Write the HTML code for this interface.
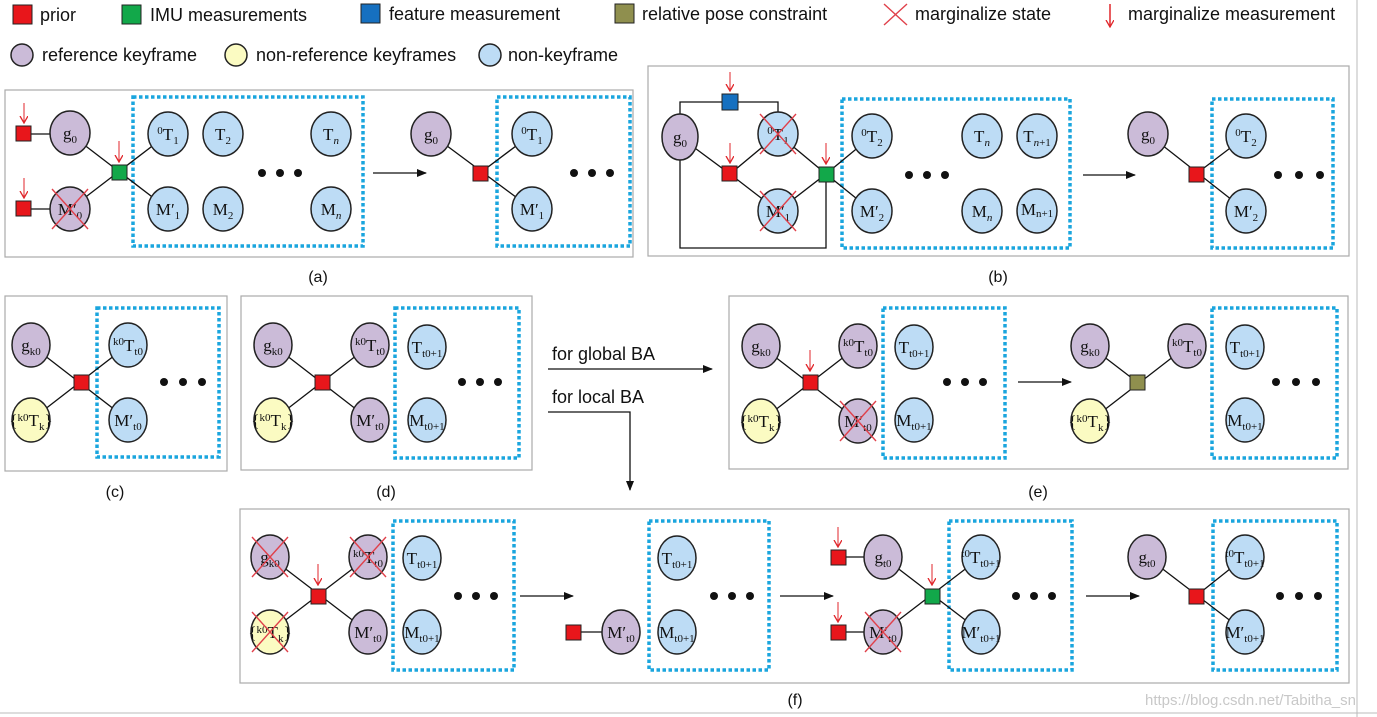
<!DOCTYPE html>
<html><head><meta charset="utf-8"><style>
body{margin:0;background:#fff}
svg{display:block}
.p{fill:#cbbbd8;stroke:#222;stroke-width:1.5}
.b{fill:#bddcf5;stroke:#222;stroke-width:1.5}
.y{fill:#fbfbc2;stroke:#222;stroke-width:1.5}
.box{fill:none;stroke:#aaa;stroke-width:1.2}
.dot{fill:none;stroke:#1aa5de;stroke-width:3.5;stroke-dasharray:3.5 2.5}
.ln{stroke:#111;stroke-width:1.3;fill:none}
.x{stroke:#e0404a;stroke-width:1.4}
.l{font-family:"Liberation Serif",serif;font-size:17px;text-anchor:middle;fill:#111}
.s{font-size:11px}
.lg{font-family:"Liberation Sans",sans-serif;font-size:18px;fill:#111}
.cap{font-family:"Liberation Sans",sans-serif;font-size:16px;fill:#111;text-anchor:middle}
.r{fill:#e8161b;stroke:#222;stroke-width:1}
.g{fill:#12a84a;stroke:#222;stroke-width:1}
.dd{fill:#111}
</style></head><body>
<svg width="1377" height="717" viewBox="0 0 1377 717" xmlns="http://www.w3.org/2000/svg">
<defs>
<marker id="ah" markerWidth="10" markerHeight="8" refX="9" refY="4" orient="auto" markerUnits="userSpaceOnUse"><path d="M0,0 L10,4 L0,8z" fill="#111"/></marker>
<marker id="ra" markerWidth="8" markerHeight="10" refX="7" refY="4" orient="auto" markerUnits="userSpaceOnUse"><path d="M0,0 L7,4 L0,8" fill="none" stroke="#e0262b" stroke-width="1.3"/></marker>
</defs>
<!-- legend -->
<rect x="13" y="5" width="19" height="19" class="r"/><text x="40" y="21" class="lg">prior</text>
<rect x="122" y="5" width="19" height="19" class="g"/><text x="150" y="21" class="lg">IMU measurements</text>
<rect x="361" y="4" width="19" height="19" fill="#1670c0" stroke="#222"/><text x="389" y="20" class="lg">feature measurement</text>
<rect x="615" y="4" width="19" height="19" fill="#8f8f4e" stroke="#222"/><text x="642" y="20" class="lg">relative pose constraint</text>
<line x1="884" y1="4" x2="907" y2="25" class="x" stroke-width="2"/><line x1="907" y1="4" x2="884" y2="25" class="x" stroke-width="2"/><text x="915" y="20" class="lg">marginalize state</text>
<line x1="1110" y1="4" x2="1110" y2="27" stroke="#e0262b" stroke-width="1.5" marker-end="url(#ra)"/><text x="1128" y="20" class="lg">marginalize measurement</text>
<circle cx="22" cy="55" r="11" class="p"/><text x="42" y="61" class="lg">reference keyframe</text>
<circle cx="236" cy="55" r="11" class="y"/><text x="256" y="61" class="lg">non-reference keyframes</text>
<circle cx="490" cy="55" r="11" class="b"/><text x="508" y="61" class="lg">non-keyframe</text>
<line x1="1357" y1="0" x2="1357" y2="717" stroke="#bbb"/>

<!-- (a) -->
<rect x="5" y="90" width="628" height="167" class="box"/>
<rect x="133" y="97" width="230" height="149" class="dot"/>
<rect x="497" y="97" width="133" height="149" class="dot"/>
<line x1="24" y1="134" x2="70" y2="134" class="ln"/><line x1="24" y1="209" x2="70" y2="209" class="ln"/>
<line x1="70" y1="134" x2="168" y2="209" class="ln"/><line x1="70" y1="209" x2="168" y2="134" class="ln"/>
<rect x="16" y="126" width="15" height="15" class="r"/><rect x="16" y="201" width="15" height="15" class="r"/>
<line x1="24" y1="103" x2="24" y2="123" stroke="#e0262b" marker-end="url(#ra)"/><line x1="24" y1="178" x2="24" y2="198" stroke="#e0262b" marker-end="url(#ra)"/>
<rect x="112" y="165" width="15" height="15" class="g"/><line x1="119" y1="141" x2="119" y2="162" stroke="#e0262b" marker-end="url(#ra)"/>
<ellipse cx="70" cy="133" rx="20" ry="22" class="p"/><text x="70" y="139" class="l">g<tspan class="s" dy="4">0</tspan></text>
<ellipse cx="70" cy="209" rx="20" ry="22" class="p"/><text x="70" y="215" class="l">M′<tspan class="s" dy="4">0</tspan></text>
<line x1="52" y1="189" x2="88" y2="229" class="x"/><line x1="88" y1="189" x2="52" y2="229" class="x"/>
<ellipse cx="168" cy="134" rx="20" ry="22" class="b"/><text x="168" y="140" class="l"><tspan class="s" dy="-6">0</tspan><tspan dy="6">T</tspan><tspan class="s" dy="4">1</tspan></text>
<ellipse cx="223" cy="134" rx="20" ry="22" class="b"/><text x="223" y="140" class="l">T<tspan class="s" dy="4">2</tspan></text>
<ellipse cx="331" cy="134" rx="20" ry="22" class="b"/><text x="331" y="140" class="l">T<tspan class="s" dy="4" font-style="italic">n</tspan></text>
<ellipse cx="168" cy="209" rx="20" ry="22" class="b"/><text x="168" y="215" class="l">M′<tspan class="s" dy="4">1</tspan></text>
<ellipse cx="223" cy="209" rx="20" ry="22" class="b"/><text x="223" y="215" class="l">M<tspan class="s" dy="4">2</tspan></text>
<ellipse cx="331" cy="209" rx="20" ry="22" class="b"/><text x="331" y="215" class="l">M<tspan class="s" dy="4" font-style="italic">n</tspan></text>
<circle cx="262" cy="173" r="4" class="dd"/><circle cx="280" cy="173" r="4" class="dd"/><circle cx="298" cy="173" r="4" class="dd"/>
<line x1="373" y1="173" x2="426" y2="173" class="ln" marker-end="url(#ah)"/>
<line x1="431" y1="134" x2="532" y2="209" class="ln"/><line x1="480" y1="173" x2="532" y2="134" class="ln"/>
<rect x="473" y="166" width="15" height="15" class="r"/>
<ellipse cx="431" cy="134" rx="20" ry="22" class="p"/><text x="431" y="140" class="l">g<tspan class="s" dy="4">0</tspan></text>
<ellipse cx="532" cy="134" rx="20" ry="22" class="b"/><text x="532" y="140" class="l"><tspan class="s" dy="-6">0</tspan><tspan dy="6">T</tspan><tspan class="s" dy="4">1</tspan></text>
<ellipse cx="532" cy="209" rx="20" ry="22" class="b"/><text x="532" y="215" class="l">M′<tspan class="s" dy="4">1</tspan></text>
<circle cx="574" cy="173" r="4" class="dd"/><circle cx="592" cy="173" r="4" class="dd"/><circle cx="610" cy="173" r="4" class="dd"/>
<text x="318" y="282" class="cap">(a)</text>

<!-- (b) -->
<rect x="648" y="66" width="701" height="190" class="box"/>
<rect x="842" y="99" width="228" height="149" class="dot"/>
<rect x="1212" y="99" width="121" height="149" class="dot"/>
<polyline points="680,137 680,102 778,102 778,134" class="ln"/>
<polyline points="680,137 680,248 826,248 826,174" class="ln"/>
<polyline points="680,137 730,174 778,134 826,174 872,136" class="ln"/>
<polyline points="730,174 778,211 826,174 872,211" class="ln"/>
<rect x="722" y="94" width="16" height="16" fill="#1670c0" stroke="#222"/>
<line x1="730" y1="72" x2="730" y2="91" stroke="#e0262b" marker-end="url(#ra)"/>
<rect x="722" y="166" width="15" height="15" class="r"/><line x1="730" y1="143" x2="730" y2="163" stroke="#e0262b" marker-end="url(#ra)"/>
<rect x="819" y="167" width="15" height="15" class="g"/><line x1="826" y1="143" x2="826" y2="164" stroke="#e0262b" marker-end="url(#ra)"/>
<ellipse cx="680" cy="137" rx="18" ry="23" class="p"/><text x="680" y="143" class="l">g<tspan class="s" dy="4">0</tspan></text>
<ellipse cx="778" cy="134" rx="20" ry="22" class="b"/><text x="778" y="140" class="l"><tspan class="s" dy="-6">0</tspan><tspan dy="6">T</tspan><tspan class="s" dy="4">1</tspan></text>
<line x1="760" y1="114" x2="796" y2="154" class="x"/><line x1="796" y1="114" x2="760" y2="154" class="x"/>
<ellipse cx="778" cy="211" rx="20" ry="22" class="b"/><text x="778" y="217" class="l">M′<tspan class="s" dy="4">1</tspan></text>
<line x1="760" y1="191" x2="796" y2="231" class="x"/><line x1="796" y1="191" x2="760" y2="231" class="x"/>
<ellipse cx="872" cy="136" rx="20" ry="22" class="b"/><text x="872" y="142" class="l"><tspan class="s" dy="-6">0</tspan><tspan dy="6">T</tspan><tspan class="s" dy="4">2</tspan></text>
<ellipse cx="982" cy="136" rx="20" ry="22" class="b"/><text x="982" y="142" class="l">T<tspan class="s" dy="4" font-style="italic">n</tspan></text>
<ellipse cx="1037" cy="136" rx="20" ry="22" class="b"/><text x="1037" y="142" class="l">T<tspan class="s" dy="4"><tspan font-style="italic">n</tspan>+1</tspan></text>
<ellipse cx="872" cy="211" rx="20" ry="22" class="b"/><text x="872" y="217" class="l">M′<tspan class="s" dy="4">2</tspan></text>
<ellipse cx="982" cy="211" rx="20" ry="22" class="b"/><text x="982" y="217" class="l">M<tspan class="s" dy="4" font-style="italic">n</tspan></text>
<ellipse cx="1037" cy="211" rx="20" ry="22" class="b"/><text x="1037" y="215" class="l" font-size="12">M<tspan class="s" dy="2" font-size="8">n+1</tspan></text>
<circle cx="909" cy="175" r="4" class="dd"/><circle cx="927" cy="175" r="4" class="dd"/><circle cx="945" cy="175" r="4" class="dd"/>
<line x1="1083" y1="175" x2="1135" y2="175" class="ln" marker-end="url(#ah)"/>
<line x1="1148" y1="134" x2="1246" y2="211" class="ln"/><line x1="1196" y1="174" x2="1246" y2="136" class="ln"/>
<rect x="1189" y="167" width="15" height="15" class="r"/>
<ellipse cx="1148" cy="134" rx="20" ry="22" class="p"/><text x="1148" y="140" class="l">g<tspan class="s" dy="4">0</tspan></text>
<ellipse cx="1246" cy="136" rx="20" ry="22" class="b"/><text x="1246" y="142" class="l"><tspan class="s" dy="-6">0</tspan><tspan dy="6">T</tspan><tspan class="s" dy="4">2</tspan></text>
<ellipse cx="1246" cy="211" rx="20" ry="22" class="b"/><text x="1246" y="217" class="l">M′<tspan class="s" dy="4">2</tspan></text>
<circle cx="1278" cy="175" r="4" class="dd"/><circle cx="1299" cy="175" r="4" class="dd"/><circle cx="1320" cy="175" r="4" class="dd"/>
<text x="998" y="282" class="cap">(b)</text>

<!-- (c) -->
<rect x="5" y="296" width="222" height="175" class="box"/>
<rect x="97" y="308" width="122" height="149" class="dot"/>
<line x1="31" y1="345" x2="128" y2="420" class="ln"/><line x1="31" y1="420" x2="128" y2="345" class="ln"/>
<rect x="74" y="375" width="15" height="15" class="r"/>
<ellipse cx="31" cy="345" rx="19" ry="22" class="p"/><text x="31" y="351" class="l">g<tspan class="s" dy="4">k0</tspan></text>
<ellipse cx="31" cy="420" rx="19" ry="22" class="y"/><text x="31" y="426" class="l" font-size="14">{<tspan class="s" dy="-5">k0</tspan><tspan dy="5">T</tspan><tspan class="s" dy="4">k</tspan><tspan dy="-4">}</tspan></text>
<ellipse cx="128" cy="345" rx="19" ry="22" class="b"/><text x="128" y="351" class="l"><tspan class="s" dy="-6">k0</tspan><tspan dy="6">T</tspan><tspan class="s" dy="4">t0</tspan></text>
<ellipse cx="128" cy="420" rx="19" ry="22" class="b"/><text x="128" y="426" class="l">M′<tspan class="s" dy="4">t0</tspan></text>
<circle cx="164" cy="382" r="4" class="dd"/><circle cx="183" cy="382" r="4" class="dd"/><circle cx="202" cy="382" r="4" class="dd"/>
<text x="115" y="497" class="cap">(c)</text>

<!-- (d) -->
<rect x="241" y="296" width="291" height="174" class="box"/>
<rect x="395" y="308" width="124" height="150" class="dot"/>
<line x1="273" y1="345" x2="370" y2="420" class="ln"/><line x1="273" y1="420" x2="370" y2="345" class="ln"/>
<rect x="315" y="375" width="15" height="15" class="r"/>
<ellipse cx="273" cy="345" rx="19" ry="22" class="p"/><text x="273" y="351" class="l">g<tspan class="s" dy="4">k0</tspan></text>
<ellipse cx="273" cy="420" rx="19" ry="22" class="y"/><text x="273" y="426" class="l" font-size="14">{<tspan class="s" dy="-5">k0</tspan><tspan dy="5">T</tspan><tspan class="s" dy="4">k</tspan><tspan dy="-4">}</tspan></text>
<ellipse cx="370" cy="345" rx="19" ry="22" class="p"/><text x="370" y="351" class="l"><tspan class="s" dy="-6">k0</tspan><tspan dy="6">T</tspan><tspan class="s" dy="4">t0</tspan></text>
<ellipse cx="370" cy="420" rx="19" ry="22" class="p"/><text x="370" y="426" class="l">M′<tspan class="s" dy="4">t0</tspan></text>
<ellipse cx="427" cy="347" rx="19" ry="22" class="b"/><text x="427" y="353" class="l">T<tspan class="s" dy="4">t0+1</tspan></text>
<ellipse cx="427" cy="420" rx="19" ry="22" class="b"/><text x="427" y="426" class="l">M<tspan class="s" dy="4">t0+1</tspan></text>
<circle cx="462" cy="382" r="4" class="dd"/><circle cx="480" cy="382" r="4" class="dd"/><circle cx="498" cy="382" r="4" class="dd"/>
<text x="386" y="497" class="cap">(d)</text>

<text x="552" y="360" class="lg" font-size="17">for global BA</text>
<line x1="548" y1="369" x2="712" y2="369" class="ln" marker-end="url(#ah)"/>
<text x="552" y="403" class="lg" font-size="17">for local BA</text>
<polyline points="548,412 630,412 630,490" class="ln" marker-end="url(#ah)"/>

<!-- (e) -->
<rect x="729" y="296" width="619" height="173" class="box"/>
<rect x="883" y="308" width="122" height="150" class="dot"/>
<rect x="1212" y="308" width="125" height="150" class="dot"/>
<line x1="761" y1="346" x2="858" y2="421" class="ln"/><line x1="761" y1="421" x2="858" y2="346" class="ln"/>
<rect x="803" y="375" width="15" height="15" class="r"/><line x1="810" y1="350" x2="810" y2="371" stroke="#e0262b" marker-end="url(#ra)"/>
<ellipse cx="761" cy="346" rx="19" ry="22" class="p"/><text x="761" y="352" class="l">g<tspan class="s" dy="4">k0</tspan></text>
<ellipse cx="761" cy="421" rx="19" ry="22" class="y"/><text x="761" y="427" class="l" font-size="14">{<tspan class="s" dy="-5">k0</tspan><tspan dy="5">T</tspan><tspan class="s" dy="4">k</tspan><tspan dy="-4">}</tspan></text>
<ellipse cx="858" cy="346" rx="19" ry="22" class="p"/><text x="858" y="352" class="l"><tspan class="s" dy="-6">k0</tspan><tspan dy="6">T</tspan><tspan class="s" dy="4">t0</tspan></text>
<ellipse cx="858" cy="421" rx="19" ry="22" class="p"/><text x="858" y="427" class="l">M′<tspan class="s" dy="4">t0</tspan></text>
<line x1="840" y1="401" x2="876" y2="441" class="x"/><line x1="876" y1="401" x2="840" y2="441" class="x"/>
<ellipse cx="914" cy="347" rx="19" ry="22" class="b"/><text x="914" y="353" class="l">T<tspan class="s" dy="4">t0+1</tspan></text>
<ellipse cx="914" cy="420" rx="19" ry="22" class="b"/><text x="914" y="426" class="l">M<tspan class="s" dy="4">t0+1</tspan></text>
<circle cx="947" cy="382" r="4" class="dd"/><circle cx="965" cy="382" r="4" class="dd"/><circle cx="983" cy="382" r="4" class="dd"/>
<line x1="1018" y1="382" x2="1071" y2="382" class="ln" marker-end="url(#ah)"/>
<line x1="1090" y1="346" x2="1137" y2="382" class="ln"/><line x1="1090" y1="421" x2="1187" y2="346" class="ln"/>
<rect x="1130" y="375" width="15" height="15" fill="#8f8f4e" stroke="#222"/>
<ellipse cx="1090" cy="346" rx="19" ry="22" class="p"/><text x="1090" y="352" class="l">g<tspan class="s" dy="4">k0</tspan></text>
<ellipse cx="1090" cy="421" rx="19" ry="22" class="y"/><text x="1090" y="427" class="l" font-size="14">{<tspan class="s" dy="-5">k0</tspan><tspan dy="5">T</tspan><tspan class="s" dy="4">k</tspan><tspan dy="-4">}</tspan></text>
<ellipse cx="1187" cy="346" rx="19" ry="22" class="p"/><text x="1187" y="352" class="l"><tspan class="s" dy="-6">k0</tspan><tspan dy="6">T</tspan><tspan class="s" dy="4">t0</tspan></text>
<ellipse cx="1245" cy="347" rx="19" ry="22" class="b"/><text x="1245" y="353" class="l">T<tspan class="s" dy="4">t0+1</tspan></text>
<ellipse cx="1245" cy="420" rx="19" ry="22" class="b"/><text x="1245" y="426" class="l">M<tspan class="s" dy="4">t0+1</tspan></text>
<circle cx="1276" cy="382" r="4" class="dd"/><circle cx="1296" cy="382" r="4" class="dd"/><circle cx="1316" cy="382" r="4" class="dd"/>
<text x="1038" y="497" class="cap">(e)</text>

<!-- (f) -->
<rect x="240" y="509" width="1109" height="174" class="box"/>
<rect x="393" y="521" width="121" height="149" class="dot"/>
<rect x="649" y="521" width="120" height="149" class="dot"/>
<rect x="949" y="521" width="123" height="149" class="dot"/>
<rect x="1213" y="521" width="124" height="149" class="dot"/>
<line x1="270" y1="557" x2="368" y2="632" class="ln"/><line x1="270" y1="632" x2="368" y2="557" class="ln"/>
<rect x="311" y="589" width="15" height="15" class="r"/><line x1="318" y1="564" x2="318" y2="585" stroke="#e0262b" marker-end="url(#ra)"/>
<ellipse cx="270" cy="557" rx="19" ry="22" class="p"/><text x="270" y="563" class="l">g<tspan class="s" dy="4">k0</tspan></text>
<line x1="252" y1="537" x2="288" y2="577" class="x"/><line x1="288" y1="537" x2="252" y2="577" class="x"/>
<ellipse cx="368" cy="557" rx="19" ry="22" class="p"/><text x="368" y="563" class="l"><tspan class="s" dy="-6">k0</tspan><tspan dy="6">T</tspan><tspan class="s" dy="4">t0</tspan></text>
<line x1="350" y1="537" x2="386" y2="577" class="x"/><line x1="386" y1="537" x2="350" y2="577" class="x"/>
<ellipse cx="270" cy="632" rx="19" ry="22" class="y"/><text x="270" y="638" class="l" font-size="14">{<tspan class="s" dy="-5">k0</tspan><tspan dy="5">T</tspan><tspan class="s" dy="4">k</tspan><tspan dy="-4">}</tspan></text>
<line x1="252" y1="612" x2="288" y2="652" class="x"/><line x1="288" y1="612" x2="252" y2="652" class="x"/>
<ellipse cx="368" cy="632" rx="19" ry="22" class="p"/><text x="368" y="638" class="l">M′<tspan class="s" dy="4">t0</tspan></text>
<ellipse cx="422" cy="558" rx="19" ry="22" class="b"/><text x="422" y="564" class="l">T<tspan class="s" dy="4">t0+1</tspan></text>
<ellipse cx="422" cy="632" rx="19" ry="22" class="b"/><text x="422" y="638" class="l">M<tspan class="s" dy="4">t0+1</tspan></text>
<circle cx="458" cy="596" r="4" class="dd"/><circle cx="476" cy="596" r="4" class="dd"/><circle cx="494" cy="596" r="4" class="dd"/>
<line x1="520" y1="596" x2="573" y2="596" class="ln" marker-end="url(#ah)"/>
<line x1="573" y1="632" x2="621" y2="632" class="ln"/>
<rect x="566" y="625" width="15" height="15" class="r"/>
<ellipse cx="621" cy="632" rx="19" ry="22" class="p"/><text x="621" y="638" class="l">M′<tspan class="s" dy="4">t0</tspan></text>
<ellipse cx="677" cy="558" rx="19" ry="22" class="b"/><text x="677" y="564" class="l">T<tspan class="s" dy="4">t0+1</tspan></text>
<ellipse cx="677" cy="632" rx="19" ry="22" class="b"/><text x="677" y="638" class="l">M<tspan class="s" dy="4">t0+1</tspan></text>
<circle cx="714" cy="596" r="4" class="dd"/><circle cx="732" cy="596" r="4" class="dd"/><circle cx="750" cy="596" r="4" class="dd"/>
<line x1="780" y1="596" x2="833" y2="596" class="ln" marker-end="url(#ah)"/>
<line x1="838" y1="557" x2="883" y2="557" class="ln"/><line x1="838" y1="632" x2="883" y2="632" class="ln"/>
<line x1="883" y1="557" x2="981" y2="632" class="ln"/><line x1="883" y1="632" x2="981" y2="557" class="ln"/>
<rect x="831" y="550" width="15" height="15" class="r"/><line x1="838" y1="527" x2="838" y2="547" stroke="#e0262b" marker-end="url(#ra)"/>
<rect x="831" y="625" width="15" height="15" class="r"/><line x1="838" y1="602" x2="838" y2="622" stroke="#e0262b" marker-end="url(#ra)"/>
<rect x="925" y="589" width="15" height="15" class="g"/><line x1="932" y1="564" x2="932" y2="585" stroke="#e0262b" marker-end="url(#ra)"/>
<ellipse cx="883" cy="557" rx="19" ry="22" class="p"/><text x="883" y="563" class="l">g<tspan class="s" dy="4">t0</tspan></text>
<ellipse cx="883" cy="632" rx="19" ry="22" class="p"/><text x="883" y="638" class="l">M′<tspan class="s" dy="4">t0</tspan></text>
<line x1="865" y1="612" x2="901" y2="652" class="x"/><line x1="901" y1="612" x2="865" y2="652" class="x"/>
<ellipse cx="981" cy="557" rx="19" ry="22" class="b"/><text x="981" y="563" class="l"><tspan class="s" dy="-6">t0</tspan><tspan dy="6">T</tspan><tspan class="s" dy="4">t0+1</tspan></text>
<ellipse cx="981" cy="632" rx="19" ry="22" class="b"/><text x="981" y="638" class="l">M′<tspan class="s" dy="4">t0+1</tspan></text>
<circle cx="1016" cy="596" r="4" class="dd"/><circle cx="1034" cy="596" r="4" class="dd"/><circle cx="1052" cy="596" r="4" class="dd"/>
<line x1="1086" y1="596" x2="1139" y2="596" class="ln" marker-end="url(#ah)"/>
<line x1="1147" y1="557" x2="1245" y2="632" class="ln"/><line x1="1196" y1="596" x2="1245" y2="557" class="ln"/>
<rect x="1189" y="589" width="15" height="15" class="r"/>
<ellipse cx="1147" cy="557" rx="19" ry="22" class="p"/><text x="1147" y="563" class="l">g<tspan class="s" dy="4">t0</tspan></text>
<ellipse cx="1245" cy="557" rx="19" ry="22" class="b"/><text x="1245" y="563" class="l"><tspan class="s" dy="-6">t0</tspan><tspan dy="6">T</tspan><tspan class="s" dy="4">t0+1</tspan></text>
<ellipse cx="1245" cy="632" rx="19" ry="22" class="b"/><text x="1245" y="638" class="l">M′<tspan class="s" dy="4">t0+1</tspan></text>
<circle cx="1280" cy="596" r="4" class="dd"/><circle cx="1299" cy="596" r="4" class="dd"/><circle cx="1318" cy="596" r="4" class="dd"/>
<text x="795" y="705" class="cap">(f)</text>
<text x="1145" y="705" font-family="Liberation Sans,sans-serif" font-size="15" fill="#c8c8c8">https://blog.csdn.net/Tabitha_sn</text>
<line x1="0" y1="713" x2="1377" y2="713" stroke="#bbb"/>
</svg>
</body></html>
